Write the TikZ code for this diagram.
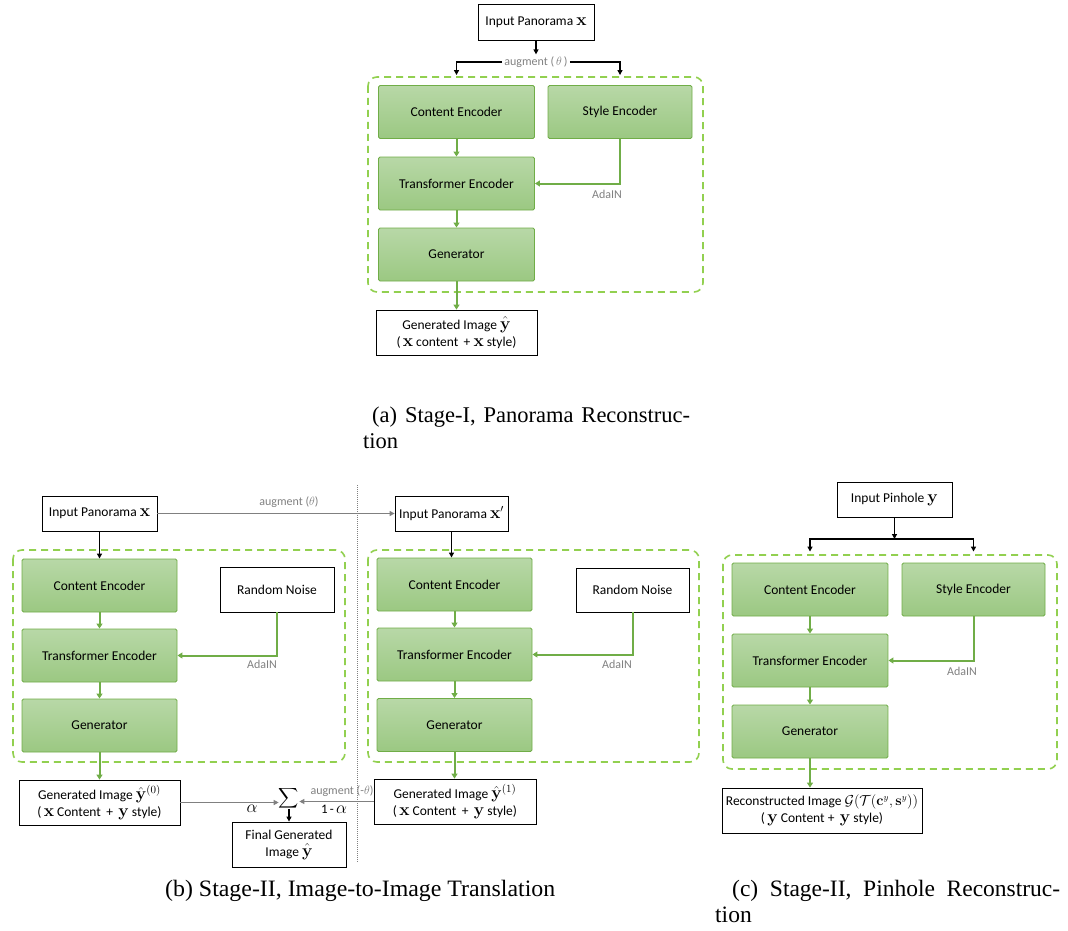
\documentclass[tikz,border=0pt]{standalone}
\usepackage[no-math]{fontspec}
\usepackage{amsmath}
\usepackage{amssymb}
\usepackage{xcolor}
\usetikzlibrary{arrows.meta}
\setmainfont{Carlito}
\newfontfamily\capfont{Liberation Serif}
\definecolor{gtop}{RGB}{184,216,167}
\definecolor{gbot}{RGB}{155,200,130}
\definecolor{gline}{RGB}{112,173,71}
\definecolor{gdash}{RGB}{146,208,80}
\definecolor{glabel}{RGB}{128,128,128}
\newcommand{\bv}[1]{{\fontsize{16}{16}\selectfont$#1$}}

\begin{document}
\begin{tikzpicture}[
  x=1pt, y=-1pt,
  gbox/.style={draw=gline,line width=0.9pt,top color=gtop,bottom color=gbot,rounded corners=1.5pt,minimum width=156pt,minimum height=53pt,font=\fontsize{13.5}{16}\selectfont},
  wbox/.style={draw,line width=0.8pt,fill=white,align=center,inner sep=1pt,font=\fontsize{13.5}{17}\selectfont},
  grpbox/.style={draw=gdash,line width=1.6pt,dash pattern=on 7pt off 5pt,rounded corners=9pt},
  garrow/.style={draw=gline,line width=2pt,-{Triangle[length=5pt,width=6pt]}},
  karrow/.style={line width=1.5pt,-{Triangle[length=5pt,width=5pt]}},
  parrow/.style={draw=glabel,line width=1.2pt,-{Triangle[length=5pt,width=5pt]}},
  note/.style={text=glabel,font=\fontsize{12}{14}\selectfont,inner sep=2pt},
  divider/.style={draw=glabel,line width=1pt,densely dotted},
  captext/.style={anchor=base west,inner sep=0pt,font=\capfont\fontsize{22.5}{26}\selectfont},
  bigcap/.style={captext,font=\capfont\fontsize{23.5}{26}\selectfont}
]
  \useasboundingbox (0,0) rectangle (1068,931);
  \node[wbox,minimum width=116,minimum height=36] (inA) at (536,22) {Input Panorama \bv{\mathbf{x}}};
  \node[note] (augA) at (536,62) {augment ($\,\theta\,$)};
  \node[gbox] (ceA) at (456.5,112) {Content Encoder};
  \node[gbox,minimum width=144] (seA) at (620,112) {Style Encoder};
  \node[gbox] (teA) at (456.5,183.5) {Transformer Encoder};
  \node[gbox] (genA) at (456.5,254.5) {Generator};
  \node[wbox,minimum width=161,minimum height=45] (outA) at (456.5,332.5) {Generated Image \bv{\hat{\mathbf{y}}}\\(\,\bv{\mathbf{x}} content \,+ \bv{\mathbf{x}} style)};
  \node[note] (adaA) at (607,194) {AdaIN};
  \draw[grpbox] (368,77) rectangle (703,292);
  \draw[karrow] (inA) -- (augA);
  \draw[karrow,shorten >=10pt] (augA) -| (ceA);
  \draw[karrow,shorten >=10pt] (augA) -| (seA);
  \draw[garrow] (ceA) -- (teA);
  \draw[garrow] (teA) -- (genA);
  \draw[garrow] (genA) -- (outA);
  \draw[garrow] (seA) |- (teA);
  \node[captext] (capA) at (372,422) {\makebox[318pt][s]{(a) Stage-I, Panorama Reconstruc-}};
  \node[captext] (capA2) at (363,448) {tion};

  \node[wbox,minimum width=115,minimum height=35] (inB) at (99.5,513.5) {Input Panorama \bv{\mathbf{x}}};
  \node[note] (augB) at (289,502) {augment ($\theta$)};
  \node[gbox,minimum width=155] (ceB) at (99.5,585.5) {Content Encoder};
  \node[wbox,minimum width=114,minimum height=45] (rnB) at (277,589.5) {Random Noise};
  \node[gbox,minimum width=155] (teB) at (99.5,655.5) {Transformer Encoder};
  \node[gbox,minimum width=155] (genB) at (99.5,725.5) {Generator};
  \node[wbox,minimum width=161,minimum height=45] (outB) at (99.5,802.5) {Generated Image \bv{\hat{\mathbf{y}}^{(0)}}\\(\,\bv{\mathbf{x}} Content \,+ \,\bv{\mathbf{y}} style)};
  \node[note] (adaB) at (262,664) {AdaIN};
  \draw[grpbox] (13,550) rectangle (345,762);
  \node[font=\fontsize{14}{16}\selectfont,inner sep=0pt] (sum) at (289,798) {$\displaystyle\sum$};
  \node[wbox,minimum width=114,minimum height=45] (fin) at (289,844.5) {Final Generated\\Image \bv{\hat{\mathbf{y}}}};
  \node[font=\fontsize{17}{18}\selectfont] (wA) at (252,809) {$\alpha$};
  \node[font=\fontsize{13}{16}\selectfont] (wB) at (334,809) {1\,-\,{\fontsize{17}{18}\selectfont$\alpha$}};
  \node[note] (augBm) at (342,791) {augment (-$\theta$)};
  \draw[divider] (357,485) -- (357,862);

  \node[wbox,minimum width=113,minimum height=35] (inBp) at (451.5,513.5) {Input Panorama \bv{\mathbf{x}'}};
  \node[gbox,minimum width=155] (ceBp) at (454.5,584.5) {Content Encoder};
  \node[wbox,minimum width=113,minimum height=44] (rnBp) at (632.5,590) {Random Noise};
  \node[gbox,minimum width=155] (teBp) at (454.5,654.5) {Transformer Encoder};
  \node[gbox,minimum width=155] (genBp) at (454.5,725) {Generator};
  \node[wbox,minimum width=162,minimum height=45] (outBp) at (455,801.5) {Generated Image \bv{\hat{\mathbf{y}}^{(1)}}\\(\,\bv{\mathbf{x}} Content \,+ \,\bv{\mathbf{y}} style)};
  \node[note] (adaBp) at (617,664) {AdaIN};
  \draw[grpbox] (368,550) rectangle (699,762);

  \draw[parrow] (inB) -- (inBp);
  \draw[karrow] (inB) -- (ceB);
  \draw[garrow] (ceB) -- (teB);
  \draw[garrow] (teB) -- (genB);
  \draw[garrow] (genB) -- (outB);
  \draw[garrow] (rnB) |- (teB);
  \draw[karrow] (inBp.south) -- (inBp.south |- ceBp.north);
  \draw[garrow] (ceBp) -- (teBp);
  \draw[garrow] (teBp) -- (genBp);
  \draw[garrow] (genBp) -- (genBp |- outBp.north);
  \draw[garrow] (rnBp) |- (teBp);
  \draw[parrow] (outB.east) -- (outB.east -| sum.west);
  \draw[parrow] (outBp.west) -- (outBp.west -| sum.east);
  \draw[karrow] (sum) -- (fin);
  \node[bigcap] (capB) at (165,896) {\resizebox{390pt}{\height}{(b) Stage-II, Image-to-Image Translation}};

  \node[wbox,minimum width=115,minimum height=35] (inC) at (894.5,499.5) {Input Pinhole \bv{\mathbf{y}}};
  \coordinate (splitC) at (894.5,539);
  \node[gbox] (ceC) at (810,589.5) {Content Encoder};
  \node[gbox,minimum width=143] (seC) at (973.5,589.5) {Style Encoder};
  \node[gbox] (teC) at (810,660.5) {Transformer Encoder};
  \node[gbox] (genC) at (810,731.5) {Generator};
  \node[wbox,minimum width=200,minimum height=45] (outC) at (822,810.5) {Reconstructed Image $\mathcal{G}(\mathcal{T}(\mathbf{c}^{y},\mathbf{s}^{y}))$\\(\,\bv{\mathbf{y}} Content + \,\bv{\mathbf{y}} style)};
  \node[note] (adaC) at (962,671) {AdaIN};
  \draw[grpbox] (723,555) rectangle (1057,769);
  \draw[karrow] (inC) -- (splitC);
  \draw[karrow,shorten >=11pt] (splitC) -| (ceC);
  \draw[karrow,shorten >=11pt] (splitC) -| (seC);
  \draw[garrow] (ceC) -- (teC);
  \draw[garrow] (teC) -- (genC);
  \draw[garrow] (genC) -- (genC |- outC.north);
  \draw[garrow] (seC) |- (teC);
  \node[bigcap] (capC) at (732,896) {\makebox[328pt][s]{(c) Stage-II, Pinhole Reconstruc-}};
  \node[bigcap] (capC2) at (715,922) {tion};
\end{tikzpicture}
\end{document}
